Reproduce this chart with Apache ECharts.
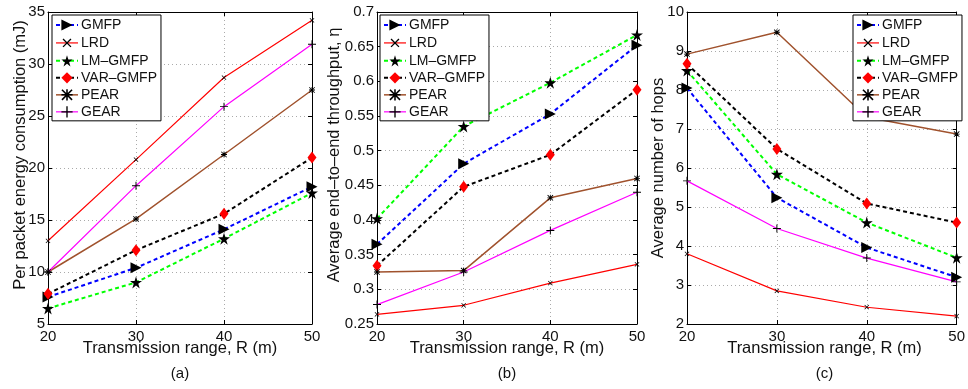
<!DOCTYPE html>
<html>
<head>
<meta charset="utf-8">
<script src="https://cdn.jsdelivr.net/npm/echarts@6/dist/echarts.min.js"></script>
<style>
  html, body { margin: 0; padding: 0; background: #fff; }
  #chart { width: 968px; height: 389px; }
</style>
</head>
<body>
<div id="chart"></div>
<script>
// Data
const ranges = [20, 30, 40, 50]
const seriesNames = ['GMFP', 'LRD', 'LM–GMFP', 'VAR–GMFP', 'PEAR', 'GEAR']

// (a) per packet energy consumption (mJ)
const energyGmfp = [7.6, 10.4, 14.1, 18.2]
const energyLrd = [13.0, 20.8, 28.7, 34.2]
const energyLm = [6.5, 9.0, 13.2, 17.6]
const energyVar = [7.9, 12.1, 15.6, 21.0]
const energyPear = [10.0, 15.1, 21.3, 27.5]
const energyGear = [10.0, 18.3, 25.9, 31.9]

// (b) average end-to-end throughput
const thrGmfp = [0.365, 0.481, 0.553, 0.652]
const thrLrd = [0.264, 0.277, 0.309, 0.336]
const thrLm = [0.402, 0.535, 0.598, 0.667]
const thrVar = [0.334, 0.448, 0.494, 0.588]
const thrPear = [0.325, 0.327, 0.432, 0.46]
const thrGear = [0.278, 0.325, 0.385, 0.44]

// (c) average number of hops
const hopsGmfp = [8.05, 5.24, 3.96, 3.2]
const hopsLrd = [3.8, 2.85, 2.43, 2.2]
const hopsLm = [8.5, 5.84, 4.6, 3.7]
const hopsVar = [8.67, 6.49, 5.09, 4.6]
const hopsPear = [8.92, 9.48, 7.3, 6.87]
const hopsGear = [5.67, 4.45, 3.69, 3.08]

// Y axis ranges per panel
const yMin = [5, 0.25, 2]
const yMax = [35, 0.7, 10]
const yStep = [5, 0.05, 1]
const yTitles = ['Per packet energy consumption (mJ)', 'Average end\u2013to\u2013end throughput, \u03b7', 'Average number of hops']
const panelLabels = ['(a)', '(b)', '(c)']

const FONT = '"Liberation Sans", Arial, Helvetica, sans-serif'

// Marker shapes (MATLAB style)
const STAR = 'path://M50,0 L61.17,34.63 L97.55,34.55 L68.07,55.87 L79.39,90.45 L50,69 L20.61,90.45 L31.93,55.87 L2.45,34.55 L38.83,34.63 Z'
const PLUS = 'path://M4.4,0h1.2v10h-1.2z M0,4.4h10v1.2h-10z'
const ASTER = 'path://M4.3,0h1.4v10h-1.4z M0,4.3h10v1.4h-10z M0,1L1,0L10,9L9,10z M9,0L10,1L1,10L0,9z'

const looks = [
  { line: '#0000ff', dash: [4, 3], width: 2, symbol: 'triangle', size: 11, rotate: -90, mark: '#000' },
  { line: '#ff0000', dash: 'solid', width: 1.2, symbol: PLUS, size: 6, rotate: 45, mark: '#000' },
  { line: '#00ff00', dash: [4, 3], width: 2, symbol: STAR, size: 12, rotate: 0, mark: '#000' },
  { line: '#000000', dash: [4, 3], width: 2, symbol: 'diamond', size: [9, 12], rotate: 0, mark: '#ff0000' },
  { line: '#a0522d', dash: 'solid', width: 1.5, symbol: ASTER, size: 6, rotate: 0, mark: '#000' },
  { line: '#ff00ff', dash: 'solid', width: 1.2, symbol: PLUS, size: 8, rotate: 0, mark: '#000' },
]

const panels = [
  [energyGmfp, energyLrd, energyLm, energyVar, energyPear, energyGear],
  [thrGmfp, thrLrd, thrLm, thrVar, thrPear, thrGear],
  [hopsGmfp, hopsLrd, hopsLm, hopsVar, hopsPear, hopsGear],
]

const grids = [
  { left: 48, top: 12, width: 264, height: 312 },
  { left: 377, top: 12, width: 260, height: 312 },
  { left: 687, top: 12, width: 275, height: 312 },
]
const legendPos = [
  { left: 52, top: 15 },
  { left: 380, top: 15 },
  { left: 853, top: 15 },
]
const yTitleX = [20, 334, 658]

const tickLabel = { color: '#111', fontSize: 15, fontFamily: FONT }

const legendItems = seriesNames.map((name, k) => ({
  name: name,
  lineStyle: { color: looks[k].line, width: looks[k].width, type: looks[k].dash },
  itemStyle: { color: looks[k].mark },
}))

const xAxes = []
const yAxes = []
const series = []
const legends = []
const graphics = []

grids.forEach((g, i) => {
  // bottom / left axes with labels and dotted grid
  xAxes.push({
    type: 'value', gridIndex: i, min: 20, max: 50, interval: 10,
    axisLine: { lineStyle: { color: '#000', width: 1 } },
    axisTick: { inside: true, length: 4, lineStyle: { color: '#000' } },
    axisLabel: { ...tickLabel, margin: 5 },
    splitLine: { show: true, lineStyle: { color: '#aaa', type: [1, 3], width: 1 } },
  })
  yAxes.push({
    type: 'value', gridIndex: i, min: yMin[i], max: yMax[i], interval: yStep[i],
    axisLine: { show: true, lineStyle: { color: '#000', width: 1 } },
    axisTick: { show: true, inside: true, length: 4, lineStyle: { color: '#000' } },
    axisLabel: { ...tickLabel, margin: 3 },
    splitLine: { show: true, lineStyle: { color: '#aaa', type: [1, 3], width: 1 } },
  })
  legends.push({
    data: legendItems,
    orient: 'vertical',
    left: legendPos[i].left,
    top: legendPos[i].top,
    backgroundColor: '#fff',
    borderColor: '#000',
    borderWidth: 1,
    borderRadius: 0,
    padding: [3, 4, 2, 3],
    itemWidth: 22,
    itemHeight: 14,
    itemGap: 3,
    textStyle: { color: '#111', fontSize: 14, lineHeight: 14, fontFamily: FONT, padding: [0, 0, 0, -2] },
  })
  graphics.push({
    type: 'text',
    x: g.left + g.width / 2,
    y: 366,
    style: { text: panelLabels[i], font: '15px ' + FONT, fill: '#111', textAlign: 'center' },
  })
  graphics.push({
    type: 'text',
    x: g.left + g.width / 2,
    y: 340,
    style: { text: 'Transmission range, R (m)', font: '16.5px ' + FONT, fill: '#111', textAlign: 'center' },
  })
  graphics.push({
    type: 'text',
    x: yTitleX[i],
    y: g.top + g.height / 2 - (i < 2 ? 13 : 0),
    rotation: Math.PI / 2,
    style: { text: yTitles[i], font: '16.5px ' + FONT, fill: '#111', textAlign: 'center', textVerticalAlign: 'middle' },
  })

  panels[i].forEach((values, k) => {
    const lk = looks[k]
    series.push({
      name: seriesNames[k],
      type: 'line',
      xAxisIndex: i,
      yAxisIndex: i,
      data: ranges.map((r, j) => [r, values[j]]),
      symbol: lk.symbol,
      symbolSize: lk.size,
      symbolRotate: lk.rotate,
      showAllSymbol: true,
      lineStyle: { color: lk.line, width: lk.width, type: lk.dash },
      itemStyle: { color: lk.mark },
      emphasis: { disabled: true },
      animation: false,
    })
  })
})

// top / right box edges with inward ticks
grids.forEach((g, i) => {
  xAxes.push({
    type: 'value', gridIndex: i, position: 'top', min: 20, max: 50, interval: 10,
    axisLine: { lineStyle: { color: '#000', width: 1 } },
    axisTick: { inside: true, length: 4, lineStyle: { color: '#000' } },
    axisLabel: { show: false },
    splitLine: { show: false },
  })
  yAxes.push({
    type: 'value', gridIndex: i, position: 'right', min: yMin[i], max: yMax[i], interval: yStep[i],
    axisLine: { show: true, lineStyle: { color: '#000', width: 1 } },
    axisTick: { show: true, inside: true, length: 4, lineStyle: { color: '#000' } },
    axisLabel: { show: false },
    splitLine: { show: false },
  })
})

const chart = echarts.init(document.getElementById('chart'), null, { renderer: 'canvas' })
chart.setOption({
  backgroundColor: '#fff',
  animation: false,
  textStyle: { fontFamily: FONT },
  grid: grids,
  xAxis: xAxes,
  yAxis: yAxes,
  legend: legends,
  series: series,
  graphic: graphics,
})
</script>
</body>
</html>
